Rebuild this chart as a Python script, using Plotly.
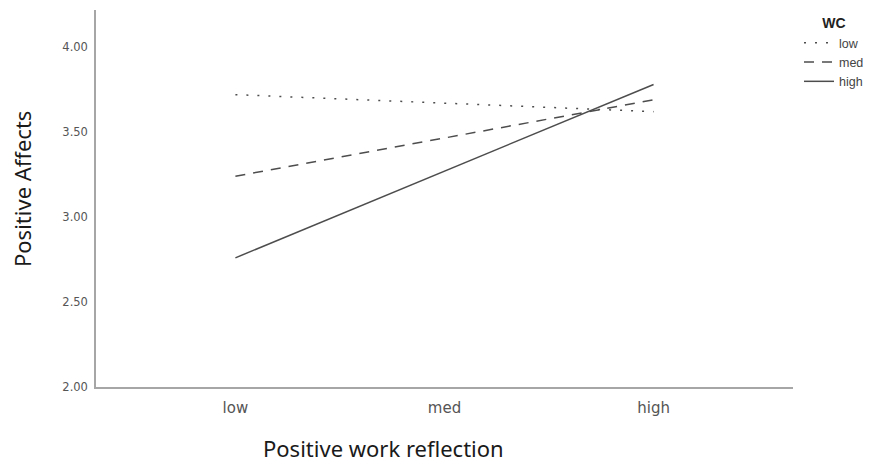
import plotly.graph_objects as go

categories = ["low", "med", "high"]
x_points = ["low", "high"]
series_names = ["low", "med", "high"]
series_values = {
    "low": [3.72, 3.62],
    "med": [3.24, 3.69],
    "high": [2.76, 3.78],
}
dashes = {"low": "2px,9px", "med": "10px,8px", "high": "solid"}
y_ticks = [2.0, 2.5, 3.0, 3.5, 4.0]
y_tick_labels = ["2.00", "2.50", "3.00", "3.50", "4.00"]

L, R, T, B = 88, 89, 2, 87
W, H = 874, 466
PW, PH = W - L - R, H - T - B

fig = go.Figure()
for name in series_names:
    fig.add_trace(go.Scatter(
        x=[categories.index(c) for c in x_points],
        y=series_values[name],
        mode="lines",
        name=name,
        line=dict(color="#4d4d4d", width=1.5, dash=dashes[name]),
    ))

title_font = dict(size=22, color="#1a1a1a", family="Noto Sans, Liberation Sans, sans-serif")

fig.update_layout(
    width=W, height=H,
    margin=dict(l=L, r=R, t=T, b=B, autoexpand=False),
    paper_bgcolor="white", plot_bgcolor="white",
    font=dict(family="DejaVu Sans, Liberation Sans, sans-serif", color="#333"),
    showlegend=True,
    legend=dict(
        title=dict(text="<b>WC</b>", font=dict(size=14, color="#222",
                   family="Liberation Sans, Arial, sans-serif"), side="top center"),
        x=(791 - L) / PW, y=1.0, xanchor="left", yanchor="top",
        font=dict(size=12.5, color="#444", family="Liberation Sans, Arial, sans-serif"),
        itemwidth=30, tracegroupgap=0,
        bgcolor="rgba(0,0,0,0)",
    ),
    xaxis=dict(
        range=[-2 / 3, 8 / 3],
        tickmode="array", tickvals=[0, 1, 2], ticktext=categories,
        showgrid=False, zeroline=False,
        showline=True, linecolor="#a6a6a6", linewidth=1.5,
        ticks="", tickfont=dict(size=15, color="#555"),
        ticklabelstandoff=6,
    ),
    yaxis=dict(
        range=[2.0, 4.218],
        tickmode="array", tickvals=y_ticks, ticktext=y_tick_labels,
        showgrid=False, zeroline=False,
        showline=True, linecolor="#a6a6a6", linewidth=1.5,
        ticks="", tickfont=dict(size=11.5, color="#555"),
        ticklabelstandoff=4,
    ),
)

fig.add_annotation(
    text="Positive work reflection", xref="paper", yref="paper",
    x=(375 - L) / PW, y=-(440 - (H - B)) / PH, xanchor="center", yanchor="middle",
    showarrow=False, font=title_font,
)
fig.add_annotation(
    text="Positive Affects", xref="paper", yref="paper", textangle=-90,
    x=(14 - L) / PW, y=1 - (181 - T) / PH, xanchor="center", yanchor="middle",
    showarrow=False, font=title_font,
)

fig.write_html("out.html")
